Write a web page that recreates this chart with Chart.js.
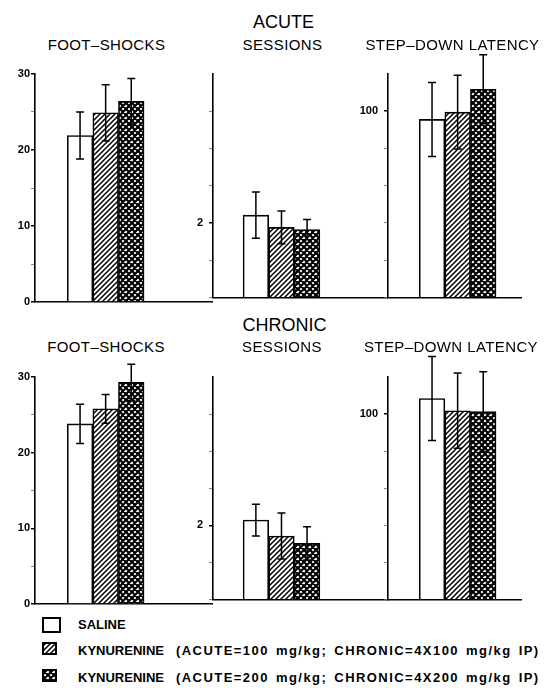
<!DOCTYPE html>
<html>
<head>
<meta charset="utf-8">
<script src="https://cdn.jsdelivr.net/npm/chart.js@4.4.0/dist/chart.umd.min.js"></script>
<style>
  body { margin: 0; background: #fff; }
  #page { position: relative; width: 549px; height: 688px; overflow: hidden; font-family: "Liberation Sans", Arial, sans-serif; color: #000; }
  canvas { position: absolute; }
  .t { position: absolute; white-space: nowrap; transform: translateX(-50%); line-height: 1; }
  .big { font-size: 18px; }
  .sub { font-size: 15px; letter-spacing: 0.4px; }
  .leg { position: absolute; left: 78px; font-size: 13px; font-weight: bold; white-space: nowrap; line-height: 1; }
  .leg .p { margin-left: 12px; letter-spacing: 1.45px; word-spacing: 2px; }
</style>
</head>
<body>
<div id="page"></div>
<script>
// panels in each row, and the three groups
var panelTitles = ['FOOT–SHOCKS', 'SESSIONS', 'STEP–DOWN LATENCY'];
var rowTitles = ['ACUTE', 'CHRONIC'];
var groups = ['SALINE', 'KYNURENINE (ACUTE=100 mg/kg; CHRONIC=4X100 mg/kg IP)', 'KYNURENINE (ACUTE=200 mg/kg; CHRONIC=4X200 mg/kg IP)'];

// acute (foot-shocks, sessions, step-down latency)
var acuteSaline = [21.9, 2.21, 95.6];
var acuteSalineErr = [3.1, 0.62, 19.9];
var acuteKyn100 = [24.9, 1.88, 99.5];
var acuteKyn100Err = [3.7, 0.44, 19.8];
var acuteKyn200 = [26.4, 1.82, 111.8];
var acuteKyn200Err = [3.0, 0.27, 18.5];

// chronic
var chronicSaline = [23.8, 2.14, 108.4];
var chronicSalineErr = [2.6, 0.43, 22.6];
var chronicKyn100 = [25.8, 1.71, 101.8];
var chronicKyn100Err = [1.9, 0.62, 20.3];
var chronicKyn200 = [29.3, 1.51, 101.3];
var chronicKyn200Err = [2.4, 0.45, 21.5];

// y axes
var yMax = [30, 6, 120];
var yStep = [5, 1, 20];
var yLabels = [[0, 10, 20, 30], [2], [100]];

var rows = [
    { values: [acuteSaline, acuteKyn100, acuteKyn200], errors: [acuteSalineErr, acuteKyn100Err, acuteKyn200Err] },
    { values: [chronicSaline, chronicKyn100, chronicKyn200], errors: [chronicSalineErr, chronicKyn100Err, chronicKyn200Err] }
];

// layout
var axisX = [35, 213, 388];
var rightEnd = 522;
var rowTop = [74, 377];
var rowH = [228, 227];
var xMin = [-0.76, -0.675, -0.72];
var barPx = 25.6;
var tickPad = [1, 6, 6];
var padTop = 25, padBottom = 8;

var page = document.getElementById('page');

function makePattern(kind) {
    var s = kind === 'hatch' ? 5 : 6;
    var c = document.createElement('canvas');
    c.width = s; c.height = s;
    var g = c.getContext('2d');
    g.fillStyle = '#fff';
    g.fillRect(0, 0, s, s);
    g.strokeStyle = '#000';
    g.lineWidth = kind === 'hatch' ? 1.5 : 2.2;
    g.beginPath();
    for (var k = -1; k <= 1; k++) {
        g.moveTo(k * s - 1, s + 1); g.lineTo(k * s + s + 1, -1);
        if (kind === 'cross') { g.moveTo(k * s - 1, -1); g.lineTo(k * s + s + 1, s + 1); }
    }
    g.stroke();
    return g.createPattern(c, 'repeat');
}

var fills = ['#fff', makePattern('hatch'), makePattern('cross')];

var errorBars = {
    id: 'errorBars',
    afterDatasetsDraw: function (chart) {
        var ctx = chart.ctx;
        var y = chart.scales.y;
        ctx.save();
        ctx.strokeStyle = '#000';
        ctx.lineWidth = 1.5;
        chart.data.datasets.forEach(function (ds, i) {
            chart.getDatasetMeta(i).data.forEach(function (bar, j) {
                var v = ds.data[j].y, e = ds.errors[j];
                var top = y.getPixelForValue(v + e), bot = y.getPixelForValue(v - e);
                ctx.beginPath();
                ctx.moveTo(bar.x, top); ctx.lineTo(bar.x, bot);
                ctx.moveTo(bar.x - 4, top); ctx.lineTo(bar.x + 4, top);
                ctx.moveTo(bar.x - 4, bot); ctx.lineTo(bar.x + 4, bot);
                ctx.stroke();
            });
        });
        ctx.restore();
    }
};

function addText(cls, text, left, top) {
    var d = document.createElement('div');
    d.className = 't ' + cls;
    d.textContent = text;
    d.style.left = left + 'px';
    d.style.top = top + 'px';
    page.appendChild(d);
}

addText('big', rowTitles[0], 283.5, 13);
addText('big', rowTitles[1], 284.5, 316);
var subCenters = [[106.5, 282.5, 452.5], [106, 282, 451]];
var subTops = [37.3, 339.3];

function makeChart(r, p) {
    var areaW = (p < 2 ? axisX[p + 1] : rightEnd) - axisX[p];
    var canvas = document.createElement('canvas');
    canvas.width = 35 + areaW;
    canvas.height = rowH[r] + padTop + padBottom;
    canvas.style.left = (axisX[p] - 35) + 'px';
    canvas.style.top = (rowTop[r] - padTop) + 'px';
    page.appendChild(canvas);

    var datasets = [0, 1, 2].map(function (g) {
        return {
            label: groups[g],
            data: [{ x: g + 1, y: rows[r].values[g][p] }],
            errors: [rows[r].errors[g][p]],
            backgroundColor: fills[g]
        };
    });

    var isMajor = function (c) { return c.tick && yLabels[p].indexOf(c.tick.value) >= 0; };

    new Chart(canvas, {
        type: 'bar',
        data: { datasets: datasets },
        options: {
            responsive: false,
            animation: false,
            layout: { padding: { top: padTop, bottom: padBottom, left: 0, right: 0 } },
            plugins: { legend: { display: false }, tooltip: { enabled: false } },
            datasets: {
                bar: { grouped: false, barPercentage: 1, categoryPercentage: 1, borderColor: '#000', borderWidth: 1.6, borderSkipped: 'bottom' }
            },
            scales: {
                x: {
                    type: 'linear',
                    offset: false,
                    min: xMin[p],
                    max: xMin[p] + areaW / barPx,
                    grid: { display: false, offset: false },
                    border: { color: '#000', width: 1.6 },
                    ticks: { display: false, stepSize: 1, includeBounds: false },
                    afterFit: function (s) { s.height = 0; }
                },
                y: {
                    min: 0,
                    max: yMax[p],
                    grid: {
                        drawOnChartArea: false,
                        tickLength: 4,
                        color: function (c) {
                            if (isMajor(c)) return '#000';
                            if (c.tick && c.tick.value === yMax[p]) return 'rgba(0,0,0,0)';
                            return '#666';
                        },
                        lineWidth: function (c) { return isMajor(c) ? 1.5 : 0.8; }
                    },
                    border: { color: '#000', width: 1.6 },
                    ticks: {
                        stepSize: yStep[p],
                        padding: tickPad[p],
                        color: '#000',
                        font: { family: '"Liberation Sans", Arial, sans-serif', size: 11, weight: 'bold' },
                        callback: function (v) { return yLabels[p].indexOf(v) >= 0 ? String(v) : ''; }
                    },
                    afterFit: function (s) { s.width = 35; }
                }
            }
        },
        plugins: [errorBars]
    });
}

for (var r = 0; r < 2; r++) {
    for (var p = 0; p < 3; p++) {
        addText('sub', panelTitles[p], subCenters[r][p], subTops[r]);
        makeChart(r, p);
    }
}

// legend
var swatches = [
    { left: 42, top: 617, w: 19, h: 16, textTop: 618 },
    { left: 42, top: 642, w: 15, h: 13, textTop: 644 },
    { left: 42, top: 669, w: 15, h: 13, textTop: 671 }
];
swatches.forEach(function (s, g) {
    var c = document.createElement('canvas');
    c.width = s.w; c.height = s.h;
    c.style.left = s.left + 'px';
    c.style.top = s.top + 'px';
    page.appendChild(c);
    var ctx = c.getContext('2d');
    ctx.fillStyle = fills[g];
    ctx.fillRect(0, 0, s.w, s.h);
    ctx.strokeStyle = '#000';
    ctx.lineWidth = 2;
    ctx.strokeRect(1, 1, s.w - 2, s.h - 2);

    var d = document.createElement('div');
    d.className = 'leg';
    d.style.top = s.textTop + 'px';
    var name = groups[g].split(' (')[0];
    var rest = groups[g].indexOf(' (') > 0 ? '(' + groups[g].split(' (')[1] : '';
    d.innerHTML = '<span></span>' + (rest ? '<span class="p"></span>' : '');
    d.children[0].textContent = name;
    if (rest) d.children[1].textContent = rest;
    page.appendChild(d);
});
</script>
</body>
</html>
